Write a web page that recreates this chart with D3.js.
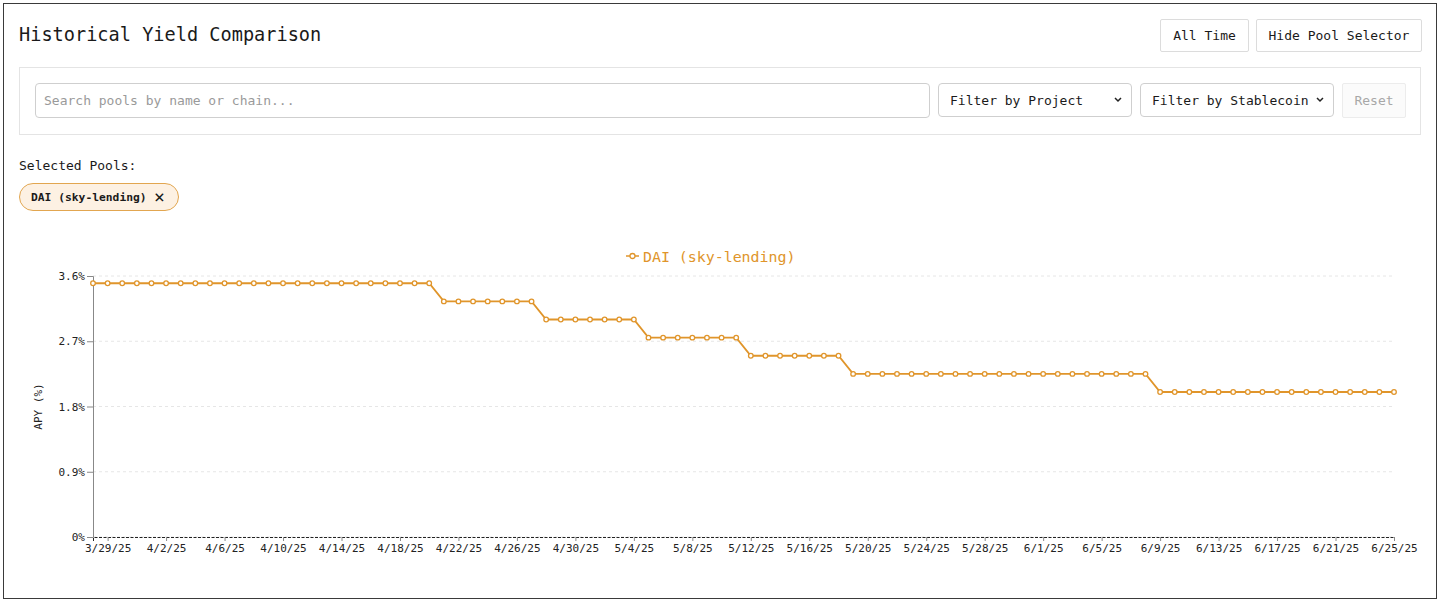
<!DOCTYPE html>
<html>
<head>
<meta charset="utf-8">
<script src="https://cdn.jsdelivr.net/npm/d3@7"></script>
<style>
  html, body { margin: 0; padding: 0; background: #fff; }
  body { width: 1440px; height: 602px; position: relative; overflow: hidden;
         font-family: "DejaVu Sans Mono", "Liberation Mono", monospace; color: #222; }
  .frame { position: absolute; left: 3px; top: 3px; width: 1432px; height: 594px;
           border: 1px solid #3a3a3a; box-sizing: content-box; }
  .abs { position: absolute; box-sizing: border-box; }
  .title { left: 19px; top: 22px; font-size: 18.6px; line-height: 26px; color: #1a1a1a; }
  .btn { background: #fff; border: 1px solid #dcdcdc; border-radius: 2px; font-size: 13px;
         display: flex; align-items: center; justify-content: center; color: #1a1a1a; }
  .panel { left: 19px; top: 67px; width: 1402px; height: 68px; border: 1px solid #e4e4e4; background: #fff; }
  .search { left: 35px; top: 83px; width: 895px; height: 35px; border: 1px solid #cfcfcf; border-radius: 4px;
            font-size: 13px; color: #9a9a9a; padding-left: 8px; display: flex; align-items: center; }
  .sel { height: 34px; top: 83px; border: 1px solid #cfcfcf; border-radius: 4px; font-size: 13px;
         color: #1a1a1a; padding-left: 11px; display: flex; align-items: center; background: #fff; }
  .sel .arr { position: absolute; right: 8px; top: 10px; }
  .reset { left: 1342px; top: 83px; width: 64px; height: 35px; border: 1px solid #ececec; border-radius: 2px;
           font-size: 13px; color: #a8a8a8; display: flex; align-items: center; justify-content: center; background: #fbfbfb; }
  .selLabel { left: 19px; top: 157px; font-size: 13px; line-height: 18px; color: #1a1a1a; }
  .chip { left: 19px; top: 183px; width: 160px; height: 28px; border: 1px solid #e2a650; border-radius: 14px;
          background: #fdf1e3; font-size: 11.3px; font-weight: bold; color: #1a1a1a;
          display: flex; align-items: center; padding-left: 11px; }
  .chip .x { position: absolute; left: 134px; top: 2px; font-size: 18px; font-weight: normal; }
  svg { position: absolute; left: 0; top: 0; }
</style>
</head>
<body>
<div class="frame"></div>
<div class="abs title">Historical Yield Comparison</div>
<div class="abs btn" style="left:1160px;top:19px;width:89px;height:33px;">All Time</div>
<div class="abs btn" style="left:1256px;top:19px;width:166px;height:33px;">Hide Pool Selector</div>
<div class="abs panel"></div>
<div class="abs search">Search pools by name or chain...</div>
<div class="abs sel" style="left:938px;width:194px;">Filter by Project<span class="arr"><svg width="10" height="12" style="position:static"><path d="M2 4 L5 7 L8 4" fill="none" stroke="#222" stroke-width="1.5"/></svg></span></div>
<div class="abs sel" style="left:1140px;width:194px;">Filter by Stablecoin<span class="arr"><svg width="10" height="12" style="position:static"><path d="M2 4 L5 7 L8 4" fill="none" stroke="#222" stroke-width="1.5"/></svg></span></div>
<div class="abs reset">Reset</div>
<div class="abs selLabel">Selected Pools:</div>
<div class="abs chip">DAI (sky-lending)<span class="x">×</span></div>
<svg id="chart" width="1440" height="602"></svg>
<script>
// ---- data ----
const seriesName = "DAI (sky-lending)";
const startDate = "2025-03-28";
const endDate = "2025-06-25";
const apy = [
  3.5,3.5,3.5,3.5,3.5,3.5,3.5,3.5,3.5,3.5,3.5,3.5,3.5,3.5,3.5,3.5,3.5,3.5,3.5,3.5,3.5,3.5,3.5,3.5,
  3.25,3.25,3.25,3.25,3.25,3.25,3.25,
  3.0,3.0,3.0,3.0,3.0,3.0,3.0,
  2.75,2.75,2.75,2.75,2.75,2.75,2.75,
  2.5,2.5,2.5,2.5,2.5,2.5,2.5,
  2.25,2.25,2.25,2.25,2.25,2.25,2.25,2.25,2.25,2.25,2.25,2.25,2.25,2.25,2.25,2.25,2.25,2.25,2.25,2.25,2.25,
  2.0,2.0,2.0,2.0,2.0,2.0,2.0,2.0,2.0,2.0,2.0,2.0,2.0,2.0,2.0,2.0,2.0
];
const xTickLabels = ["3/29/25","4/2/25","4/6/25","4/10/25","4/14/25","4/18/25","4/22/25","4/26/25",
  "4/30/25","5/4/25","5/8/25","5/12/25","5/16/25","5/20/25","5/24/25","5/28/25","6/1/25","6/5/25",
  "6/9/25","6/13/25","6/17/25","6/21/25","6/25/25"];
const yTicks = [0, 0.9, 1.8, 2.7, 3.6];
const yDomain = [0, 3.6];
const color = "#e0952b";

// ---- build ----
const parseISO = d3.timeParse("%Y-%m-%d");
const dates = d3.timeDay.range(parseISO(startDate), d3.timeDay.offset(parseISO(endDate), 1));
const data = dates.map((d, i) => ({ date: d, value: apy[i] }));
const parseTick = d3.timeParse("%m/%d/%y");
const xTickValues = xTickLabels.map(parseTick);

const m = { left: 93, right: 1394, top: 276, bottom: 537 };
const svg = d3.select("#chart");
const x = d3.scaleTime().domain([parseISO(startDate), parseISO(endDate)]).range([m.left, m.right]);
const y = d3.scaleLinear().domain(yDomain).range([m.bottom, m.top]);

// grid
svg.append("g").selectAll("line").data(yTicks).join("line")
  .attr("x1", m.left).attr("x2", m.right)
  .attr("y1", d => y(d)).attr("y2", d => y(d))
  .attr("stroke", "#e6e6e6").attr("stroke-dasharray", "3,3").attr("stroke-width", 1);

// y axis
const yAxis = svg.append("g").attr("transform", `translate(${m.left},0)`)
  .call(d3.axisLeft(y).tickValues(yTicks).tickSize(6).tickPadding(2).tickFormat(d => d + "%"));
yAxis.select(".domain").attr("stroke", "#888");
yAxis.selectAll(".tick line").attr("stroke", "#888");
yAxis.selectAll("text").attr("font-family", "DejaVu Sans Mono, monospace").attr("font-size", 11).attr("fill", "#222");

// x axis
const xAxis = svg.append("g").attr("transform", `translate(0,${m.bottom})`)
  .call(d3.axisBottom(x).tickValues(xTickValues).tickSize(4).tickPadding(3).tickFormat(d3.timeFormat("%-m/%-d/%y")));
xAxis.select(".domain").attr("stroke", "#222").attr("stroke-dasharray", "3,1.5");
xAxis.selectAll(".tick line").attr("stroke", "#888");
xAxis.selectAll("text").attr("font-family", "DejaVu Sans Mono, monospace").attr("font-size", 11).attr("fill", "#222");

// y label
svg.append("text").attr("transform", `translate(42,${(m.top + m.bottom) / 2}) rotate(-90)`)
  .attr("text-anchor", "middle").attr("font-family", "DejaVu Sans Mono, monospace")
  .attr("font-size", 11).attr("fill", "#222").text("APY (%)");

// line
const line = d3.line().x(d => x(d.date)).y(d => y(d.value));
svg.append("path").datum(data).attr("d", line).attr("fill", "none")
  .attr("stroke", color).attr("stroke-width", 1.8);
svg.append("g").selectAll("circle").data(data).join("circle")
  .attr("cx", d => x(d.date)).attr("cy", d => y(d.value)).attr("r", 2.3)
  .attr("fill", "#fff").attr("stroke", color).attr("stroke-width", 1.3);

// legend
const lg = svg.append("g").attr("transform", "translate(626,256)");
lg.append("line").attr("x1", 0).attr("x2", 13).attr("stroke", color).attr("stroke-width", 1.5);
lg.append("circle").attr("cx", 6.5).attr("r", 2.5).attr("fill", "#fff").attr("stroke", color).attr("stroke-width", 1.3);
lg.append("text").attr("x", 17).attr("y", 5.5).attr("font-family", "DejaVu Sans Mono, monospace")
  .attr("font-size", 14.9).attr("fill", color).text(seriesName);
</script>
</body>
</html>
